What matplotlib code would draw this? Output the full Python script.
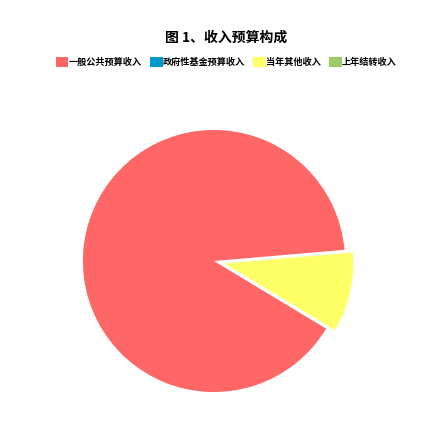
import matplotlib
matplotlib.use('Agg')
import matplotlib.pyplot as plt
from matplotlib.patches import Patch

plt.rcParams['font.family'] = ['Noto Sans CJK SC', 'DejaVu Sans']

# 收入预算构成 (百分比, 从图中估计)
categories = ['一般公共预算收入', '政府性基金预算收入', '当年其他收入', '上年结转收入']
values = [90.0, 0.0, 10.0, 0.0]
colors = ['#FF6666', '#0099CC', '#FFFF66', '#99CC66']
explode = [0, 0, 0.07, 0]

fig = plt.figure(figsize=(4.27, 4.22), dpi=100)
ax = fig.add_axes([0.194, 0.071, 0.614, 0.621])

wedges, _ = ax.pie(values, colors=colors, explode=explode, startangle=4.9,
                   counterclock=True, radius=1.0)
wedges[2].set_edgecolor('#FFFFEE')
wedges[2].set_linewidth(1.0)
ax.set_xlim(-1, 1)
ax.set_ylim(-1, 1)
ax.set_aspect('equal')
ax.axis('off')

fig.text(226 / 427, 1 - 38 / 422, '图 1、收入预算构成', ha='center', va='center',
         fontsize=10, fontweight='bold')

handles = [Patch(facecolor=c, edgecolor='none') for c in colors]
fig.legend(handles, categories, loc='center', ncol=4,
           bbox_to_anchor=(226 / 427, 1 - 62 / 422),
           frameon=False, prop={'size': 6.6, 'weight': 'bold'},
           handlelength=1.4, handleheight=1.3, handletextpad=0.0,
           columnspacing=0.9, borderpad=0)

fig.savefig('out.png', dpi=100)
